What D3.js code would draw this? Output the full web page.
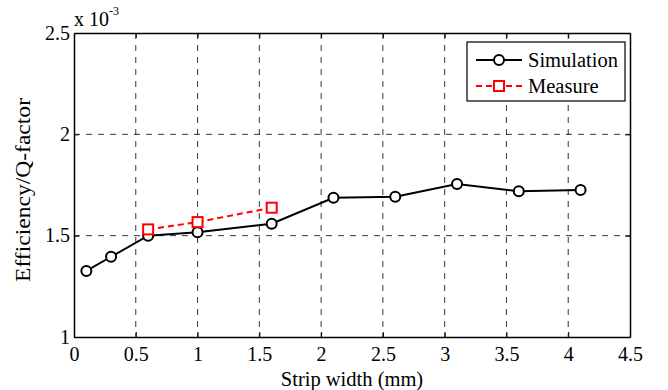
<!DOCTYPE html>
<html>
<head>
<meta charset="utf-8">
<script src="https://cdn.jsdelivr.net/npm/d3@7"></script>
<style>
  body { margin: 0; background: #fff; }
</style>
</head>
<body>
<svg id="chart" width="668" height="390"></svg>
<script>
const simX = [0.1, 0.3, 0.6, 1.0, 1.6, 2.1, 2.6, 3.1, 3.6, 4.1];
const simY = [1.326, 1.396, 1.500, 1.517, 1.559, 1.687, 1.692, 1.755, 1.719, 1.725];
const measX = [0.6, 1.0, 1.6];
const measY = [1.531, 1.567, 1.638];
const xTicks = [0, 0.5, 1, 1.5, 2, 2.5, 3, 3.5, 4, 4.5];
const yTicks = [1, 1.5, 2, 2.5];

const FONT = '"Liberation Serif", "Times New Roman", serif';
const svg = d3.select('#chart').attr('font-family', FONT);
const margin = { left: 74, top: 33, right: 38, bottom: 53 };
const width = 668 - margin.left - margin.right;
const height = 390 - margin.top - margin.bottom;

const x = d3.scaleLinear().domain([0, 4.5]).range([0, width]);
const y = d3.scaleLinear().domain([1, 2.5]).range([height, 0]);

const g = svg.append('g').attr('transform', `translate(${margin.left},${margin.top})`);

// grid
g.selectAll('.vgrid')
  .data(xTicks.slice(1, -1))
  .enter().append('line')
  .attr('x1', d => x(d)).attr('x2', d => x(d))
  .attr('y1', 0).attr('y2', height)
  .attr('stroke', '#000').attr('stroke-width', 0.8)
  .attr('stroke-dasharray', '6,6');
g.selectAll('.hgrid')
  .data(yTicks.slice(1, -1))
  .enter().append('line')
  .attr('x1', 0).attr('x2', width)
  .attr('y1', d => y(d)).attr('y2', d => y(d))
  .attr('stroke', '#000').attr('stroke-width', 0.8)
  .attr('stroke-dasharray', '6,6');

// axes, ticks pointing inward
const xAxis = g.append('g').attr('transform', `translate(0,${height})`)
  .call(d3.axisBottom(x).tickValues(xTicks).tickFormat(d3.format('')).tickSizeInner(-5).tickSizeOuter(0).tickPadding(8));
const yAxis = g.append('g')
  .call(d3.axisLeft(y).tickValues(yTicks).tickFormat(d3.format('')).tickSizeInner(-5).tickSizeOuter(0).tickPadding(4));
const xTop = g.append('g')
  .call(d3.axisTop(x).tickValues(xTicks).tickFormat('').tickSizeInner(-5).tickSizeOuter(0));
const yRight = g.append('g').attr('transform', `translate(${width},0)`)
  .call(d3.axisRight(y).tickValues(yTicks).tickFormat('').tickSizeInner(-5).tickSizeOuter(0));

[xAxis, yAxis, xTop, yRight].forEach(a => {
  a.attr('font-family', FONT).attr('font-size', 20);
  a.selectAll('path').attr('stroke', '#000').attr('stroke-width', 1.5);
  a.selectAll('line').attr('stroke', '#000');
  a.selectAll('text').attr('fill', '#000');
});
yAxis.selectAll('text').attr('dy', '0.3em');
xAxis.selectAll('text').attr('dy', '0.8em');

// exponent label
const expo = svg.append('text').attr('x', margin.left).attr('y', 26).attr('font-size', 20);
expo.append('tspan').text('x 10');
expo.append('tspan').attr('dy', -11).attr('font-size', 12).text('-3');

// axis labels
svg.append('text')
  .attr('x', margin.left + width / 2).attr('y', 386)
  .attr('text-anchor', 'middle').attr('font-size', 20.5)
  .text('Strip width (mm)');
svg.append('text')
  .attr('transform', 'translate(30,190) rotate(-90)')
  .attr('text-anchor', 'middle').attr('font-size', 21)
  .attr('textLength', 184).attr('lengthAdjust', 'spacingAndGlyphs')
  .text('Efficiency/Q-factor');

// simulation
const sim = simX.map((d, i) => ({ x: d, y: simY[i] }));
const meas = measX.map((d, i) => ({ x: d, y: measY[i] }));
const line = d3.line().x(d => x(d.x)).y(d => y(d.y));

g.append('path').datum(sim)
  .attr('d', line).attr('fill', 'none')
  .attr('stroke', '#000').attr('stroke-width', 2);
g.selectAll('.sim')
  .data(sim)
  .enter().append('circle')
  .attr('cx', d => x(d.x)).attr('cy', d => y(d.y)).attr('r', 5)
  .attr('fill', '#fff').attr('stroke', '#000').attr('stroke-width', 2);

g.append('path').datum(meas)
  .attr('d', line).attr('fill', 'none')
  .attr('stroke', '#f00').attr('stroke-width', 2).attr('stroke-dasharray', '6,4');
g.selectAll('.meas')
  .data(meas)
  .enter().append('rect')
  .attr('x', d => x(d.x) - 5).attr('y', d => y(d.y) - 5)
  .attr('width', 10).attr('height', 10)
  .attr('fill', '#fff').attr('stroke', '#f00').attr('stroke-width', 2);

// legend
const lg = svg.append('g').attr('transform', 'translate(467,42)');
lg.append('rect').attr('width', 158).attr('height', 59)
  .attr('fill', '#fff').attr('stroke', '#000').attr('stroke-width', 1.2);
lg.append('line').attr('x1', 9).attr('x2', 55).attr('y1', 18).attr('y2', 18)
  .attr('stroke', '#000').attr('stroke-width', 2);
lg.append('circle').attr('cx', 32).attr('cy', 18).attr('r', 5)
  .attr('fill', '#fff').attr('stroke', '#000').attr('stroke-width', 2);
lg.append('text').attr('x', 61).attr('y', 25).attr('font-size', 20.5).text('Simulation');
lg.append('line').attr('x1', 9).attr('x2', 55).attr('y1', 44).attr('y2', 44)
  .attr('stroke', '#f00').attr('stroke-width', 2).attr('stroke-dasharray', '6,4');
lg.append('rect').attr('x', 27).attr('y', 39).attr('width', 10).attr('height', 10)
  .attr('fill', '#fff').attr('stroke', '#f00').attr('stroke-width', 2);
lg.append('text').attr('x', 61).attr('y', 51).attr('font-size', 20.5).text('Measure');
</script>
</body>
</html>
